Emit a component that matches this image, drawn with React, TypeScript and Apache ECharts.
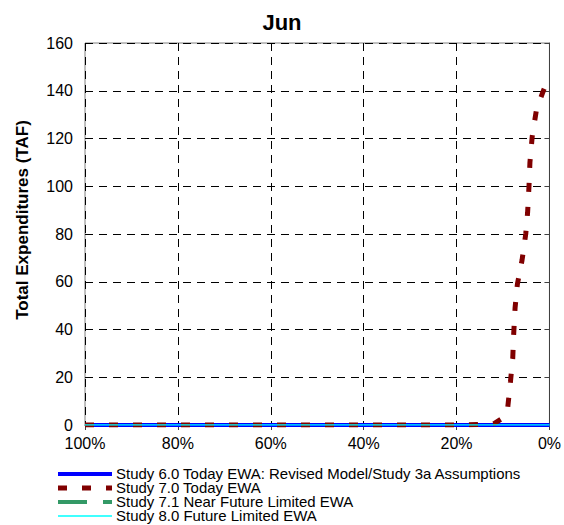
import React, { useEffect, useRef } from "react";
import * as echarts from "echarts";

const xTickLabels = ["100%", "80%", "60%", "40%", "20%", "0%"];
const yTicks = [0, 20, 40, 60, 80, 100, 120, 140, 160];

const study70X = [100, 88, 76, 64, 52, 40, 28, 18, 12, 10, 9, 8.4, 7.9, 7.7, 7.4, 6.9, 5.9, 5.1, 4.7, 4.4, 4.2, 3.7, 2.8, 1.5, 0.5];
const study70Y = [0, 0, 0, 0, 0, 0, 0, 0, 0.5, 3, 7, 18, 28, 38, 49, 59, 69, 80, 89, 100, 110, 121, 132, 139, 144];

const study60X = [100, 0];
const study60Y = [0, 0];
const study71X = [100, 0];
const study71Y = [0, 0];
const study80X = [100, 0];
const study80Y = [0, 0];

const seriesNames = [
  "Study 6.0 Today EWA: Revised Model/Study 3a Assumptions",
  "Study 7.0 Today EWA",
  "Study 7.1 Near Future Limited EWA",
  "Study 8.0 Future Limited EWA",
];
const seriesColors = ["#0000ff", "#800000", "#339966", "#00ffff"];
const seriesWidths = [4, 5, 4, 1.5];
const seriesDash: (number[] | null)[] = [null, [9, 15], [29, 16], null];
const seriesZ = [3, 4, 2, 5];

const zip = (xs: number[], ys: number[]) => xs.map((x, i) => [x, ys[i]]);

export default function App() {
  const ref = useRef<HTMLDivElement>(null);
  useEffect(() => {
    document.body.style.margin = "0";
    const chart = echarts.init(ref.current!, null, { renderer: "svg" });
    const font = "Arial, 'Liberation Sans', sans-serif";
    const legendRowsY = [474, 488, 502, 516];
    const legendGraphics: any[] = [];
    seriesNames.forEach((name, i) => {
      legendGraphics.push({
        type: "line",
        shape: { x1: 58, y1: legendRowsY[i], x2: 112, y2: legendRowsY[i] },
        style: {
          stroke: seriesColors[i],
          lineWidth: seriesWidths[i],
          lineDash: seriesDash[i] || undefined,
        },
        silent: true,
      });
      legendGraphics.push({
        type: "text",
        x: 116,
        y: legendRowsY[i],
        scaleX: 1.07,
        style: {
          text: name,
          font: `14px ${font}`,
          fill: "#000",
          textVerticalAlign: "middle",
        },
        silent: true,
      });
    });
    const mk = (i: number, xs: number[], ys: number[]) => ({
      name: seriesNames[i],
      type: "line",
      symbol: "none",
      data: zip(xs, ys),
      lineStyle: {
        color: seriesColors[i],
        width: seriesWidths[i],
        type: seriesDash[i] || "solid",
      },
      itemStyle: { color: seriesColors[i] },
      z: seriesZ[i],
    });
    chart.setOption({
      animation: false,
      backgroundColor: "#ffffff",
      textStyle: { fontFamily: font },
      title: {
        text: "Jun",
        left: "center",
        top: 6,
        textStyle: { fontSize: 22, fontWeight: "bold", color: "#000", fontFamily: font },
      },
      grid: {
        left: 85,
        right: 13,
        top: 43,
        bottom: 100,
        show: true,
        borderColor: "#808080",
        borderWidth: 1,
        backgroundColor: "#ffffff",
      },
      xAxis: {
        type: "value",
        min: 0,
        max: 100,
        interval: 20,
        inverse: true,
        axisLine: { show: true, onZero: false, lineStyle: { color: "#404040", width: 1 } },
        axisTick: { show: true, length: 5, lineStyle: { color: "#404040" } },
        axisLabel: {
          fontSize: 16,
          color: "#000",
          margin: 10,
          fontFamily: font,
          formatter: (v: number) => xTickLabels[5 - v / 20],
        },
        splitLine: { show: true, lineStyle: { color: "#000", type: [8, 6], width: 1 } },
      },
      yAxis: {
        type: "value",
        min: 0,
        max: 160,
        interval: 20,
        axisLine: { show: true, lineStyle: { color: "#404040", width: 1 } },
        axisTick: { show: true, length: 5, lineStyle: { color: "#404040" } },
        axisLabel: {
          fontSize: 16,
          color: "#000",
          margin: 12,
          fontFamily: font,
          formatter: (v: number) => String(yTicks[v / 20]),
        },
        splitLine: { show: true, lineStyle: { color: "#000", type: [8, 6], width: 1 } },
      },
      graphic: [
        {
          type: "text",
          x: 22,
          y: 220,
          rotation: Math.PI / 2,
          style: {
            text: "Total Expenditures (TAF)",
            font: `bold 17px ${font}`,
            fill: "#000",
            textAlign: "center",
            textVerticalAlign: "middle",
          },
          silent: true,
        },
        ...legendGraphics,
      ],
      series: [
        mk(0, study60X, study60Y),
        mk(1, study70X, study70Y),
        mk(2, study71X, study71Y),
        mk(3, study80X, study80Y),
      ],
    });
    return () => chart.dispose();
  }, []);
  return (
    <div
      ref={ref}
      style={{ position: "absolute", left: 0, top: 0, width: 564, height: 525 }}
    />
  );
}
